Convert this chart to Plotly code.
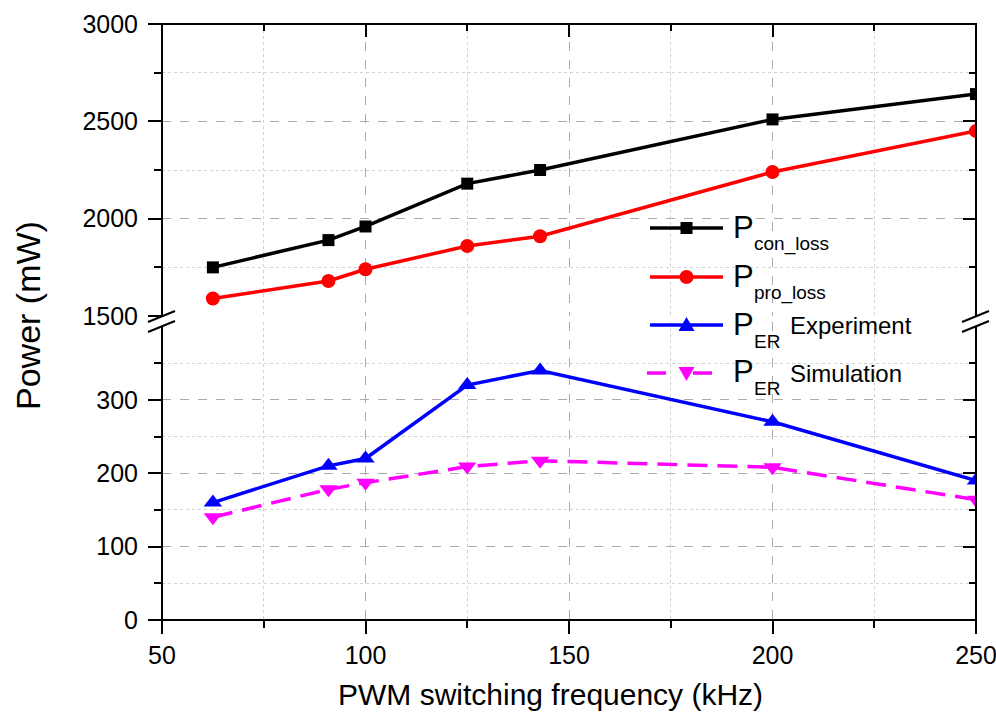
import plotly.graph_objects as go

# PWM switching frequency (kHz)
freq = [62.5, 90.9, 100, 125, 142.9, 200, 250]

# Power losses (mW), upper segment of the broken axis
p_con_loss = [1750, 1890, 1960, 2180, 2250, 2510, 2640]
p_pro_loss = [1590, 1680, 1740, 1860, 1910, 2240, 2450]

# Energy-recovery power (mW), lower segment of the broken axis
p_er_exp = [160, 210, 220, 320, 340, 270, 190]
p_er_sim = [140, 178, 187, 209, 217, 208, 164]

FONT = "Liberation Sans, Arial, sans-serif"
GRID_MAJOR = "#ababab"
GRID_MINOR = "#d2d2d2"
LINE_W = 3.5

# figure geometry in pixels (plot area)
W, H = 996, 722
ML, MR, MT, MB = 162, 20, 24, 102
PW, PH = W - ML - MR, H - MT - MB


def px_x(px):
    return (px - ML) / PW


def px_y(py):
    return (H - MB - py) / PH


series = [
    dict(y=p_con_loss, ax="y2", color="#000000", symbol="square", size=12,
         dash="solid", sub="con_loss", extra=""),
    dict(y=p_pro_loss, ax="y2", color="#ff0000", symbol="circle", size=14,
         dash="solid", sub="pro_loss", extra=""),
    dict(y=p_er_exp, ax="y", color="#0000ff", symbol="triangle-up", size=16,
         dash="solid", sub="ER", extra="Experiment"),
    dict(y=p_er_sim, ax="y", color="#ff00ff", symbol="triangle-down", size=16,
         dash="20px,10px", sub="ER", extra="Simulation"),
]

fig = go.Figure()

for s in series:
    fig.add_trace(go.Scatter(
        x=freq, y=s["y"], xaxis="x", yaxis=s["ax"], mode="lines+markers",
        name="P " + s["sub"] + (" " + s["extra"] if s["extra"] else ""),
        showlegend=False,
        line=dict(color=s["color"], width=LINE_W, dash=s["dash"]),
        marker=dict(symbol=s["symbol"], size=s["size"], color=s["color"])))

# empty traces so the mirrored tick axes (top / right) get drawn
for xa, ya in [("x2", "y2"), ("x", "y3"), ("x", "y4")]:
    fig.add_trace(go.Scatter(x=[], y=[], xaxis=xa, yaxis=ya,
                             showlegend=False, hoverinfo="skip"))

tickfont = dict(family=FONT, size=25, color="#000000")
LOW_DOM = [0, 0.5]
UP_DOM = [0.51, 1]
LOW_RANGE = [0, 406]
UP_RANGE = [1500, 3000]

xcommon = dict(range=[50, 250], dtick=50, tick0=50, tickwidth=2, automargin=False,
               tickcolor="#000", showline=False, zeroline=False)
ycommon = dict(tickwidth=2, tickcolor="#000", showline=False, zeroline=False,
               automargin=False)

fig.update_layout(
    width=W, height=H,
    margin=dict(l=ML, r=MR, t=MT, b=MB, pad=0, autoexpand=False),
    paper_bgcolor="#ffffff", plot_bgcolor="rgba(0,0,0,0)",
    font=dict(family=FONT, color="#000000"),
    showlegend=False,
    xaxis=dict(**xcommon, domain=[0, 1], anchor="y", ticks="outside", ticklen=13,
               tickfont=tickfont, ticklabeloverflow="allow", ticklabelstandoff=0,
               showgrid=True, gridcolor=GRID_MAJOR, griddash="dash", gridwidth=1,
               minor=dict(dtick=25, tick0=50, ticks="outside", ticklen=7, tickwidth=2,
                          tickcolor="#000", showgrid=True, gridcolor=GRID_MINOR,
                          griddash="dot", gridwidth=1)),
    xaxis2=dict(**xcommon, overlaying="x", anchor="y2", side="top", ticks="inside",
                ticklen=13, showticklabels=False, showgrid=False,
                minor=dict(dtick=25, tick0=50, ticks="inside", ticklen=7, tickwidth=2,
                           tickcolor="#000", showgrid=False)),
    yaxis=dict(**ycommon, domain=LOW_DOM, range=LOW_RANGE, anchor="x",
               tickvals=[0, 100, 200, 300], ticks="outside", ticklen=13,
               tickfont=tickfont, ticklabelstandoff=5,
               showgrid=True, gridcolor=GRID_MAJOR, griddash="dash", gridwidth=1,
               minor=dict(tickvals=[50, 150, 250, 350], ticks="outside", ticklen=7,
                          tickwidth=2, tickcolor="#000", showgrid=True,
                          gridcolor=GRID_MINOR, griddash="dot", gridwidth=1)),
    yaxis2=dict(**ycommon, domain=UP_DOM, range=UP_RANGE, anchor="x",
                tickvals=[1500, 2000, 2500, 3000], ticks="outside", ticklen=13,
                tickfont=tickfont, ticklabelstandoff=5,
                showgrid=True, gridcolor=GRID_MAJOR, griddash="dash", gridwidth=1,
                minor=dict(tickvals=[1750, 2250, 2750], ticks="outside", ticklen=7,
                           tickwidth=2, tickcolor="#000", showgrid=True,
                           gridcolor=GRID_MINOR, griddash="dot", gridwidth=1)),
    yaxis3=dict(**ycommon, overlaying="y", side="right", anchor="x", range=LOW_RANGE,
                tickvals=[0, 100, 200, 300], ticks="inside", ticklen=13,
                showticklabels=False, showgrid=False,
                minor=dict(tickvals=[50, 150, 250, 350], ticks="inside", ticklen=7,
                           tickwidth=2, tickcolor="#000", showgrid=False)),
    yaxis4=dict(**ycommon, overlaying="y2", side="right", anchor="x", range=UP_RANGE,
                tickvals=[1500, 2000, 2500, 3000], ticks="inside", ticklen=13,
                showticklabels=False, showgrid=False,
                minor=dict(tickvals=[1750, 2250, 2750], ticks="inside", ticklen=7,
                           tickwidth=2, tickcolor="#000", showgrid=False)),
)

# frame around the plotting area
fig.add_shape(type="rect", xref="paper", yref="paper", x0=0, x1=1, y0=0, y1=1,
              line=dict(color="#000000", width=2), fillcolor="rgba(0,0,0,0)",
              layer="above")

# axis-break marks on both vertical axes
BREAK_Y = 0.5
for xa in (0, 1):
    fig.add_shape(type="path", xref="paper", yref="paper",
                  xsizemode="pixel", ysizemode="pixel", xanchor=xa, yanchor=BREAK_Y,
                  path="M-13,1 L12,11 L12,1 L-13,-9 Z",
                  fillcolor="#ffffff", line=dict(width=0), layer="above")
    for dy in (0, -10):
        fig.add_shape(type="line", xref="paper", yref="paper",
                      xsizemode="pixel", ysizemode="pixel", xanchor=xa, yanchor=BREAK_Y,
                      x0=-14, x1=13, y0=dy, y1=dy + 11,
                      line=dict(color="#000000", width=2), layer="above")

# legend: line sample + marker + "P" with subscript and optional description
LEG_X0, LEG_X1 = 650, 723
LEG_ROWS = [228, 277, 325, 373]
marker_paths = {
    "square": "M-6,-6 L6,-6 L6,6 L-6,6 Z",
    "triangle-up": "M-8,-6 L8,-6 L0,8 Z",
    "triangle-down": "M-8,6 L8,6 L0,-8 Z",
}
for s, row in zip(series, LEG_ROWS):
    ya = px_y(row)
    xc = (LEG_X0 + LEG_X1) / 2
    if s["dash"] == "solid":
        fig.add_shape(type="line", xref="paper", yref="paper",
                      x0=px_x(LEG_X0), x1=px_x(LEG_X1), y0=ya, y1=ya,
                      line=dict(color=s["color"], width=LINE_W))
    else:
        for a, b in [(647, 666), (693, 712)]:
            fig.add_shape(type="line", xref="paper", yref="paper",
                          x0=px_x(a), x1=px_x(b), y0=ya, y1=ya,
                          line=dict(color=s["color"], width=LINE_W))
    if s["symbol"] == "circle":
        fig.add_shape(type="circle", xref="paper", yref="paper",
                      xsizemode="pixel", ysizemode="pixel",
                      xanchor=px_x(xc), yanchor=ya, x0=-7, x1=7, y0=-7, y1=7,
                      fillcolor=s["color"], line=dict(width=0))
    else:
        fig.add_shape(type="path", xref="paper", yref="paper",
                      xsizemode="pixel", ysizemode="pixel",
                      xanchor=px_x(xc), yanchor=ya, path=marker_paths[s["symbol"]],
                      fillcolor=s["color"], line=dict(width=0))
    fig.add_annotation(text="P", xref="paper", yref="paper",
                       x=px_x(731), y=px_y(row - 1), xanchor="left", yanchor="middle",
                       showarrow=False, font=dict(family=FONT, size=31, color="#000"))
    fig.add_annotation(text=s["sub"], xref="paper", yref="paper",
                       x=px_x(752), y=px_y(row + 16), xanchor="left", yanchor="middle",
                       showarrow=False, font=dict(family=FONT, size=19, color="#000"))
    if s["extra"]:
        fig.add_annotation(text=s["extra"], xref="paper", yref="paper",
                           x=px_x(788), y=px_y(row), xanchor="left", yanchor="middle",
                           showarrow=False, font=dict(family=FONT, size=24, color="#000"))

# axis titles
fig.add_annotation(text="Power (mW)", xref="paper", yref="paper",
                   x=px_x(28), y=px_y(316), xanchor="center", yanchor="middle",
                   showarrow=False, textangle=-90,
                   font=dict(family=FONT, size=34, color="#000000"))
fig.add_annotation(text="PWM switching frequency (kHz)", xref="paper", yref="paper",
                   x=px_x(550), y=px_y(695), xanchor="center", yanchor="middle",
                   showarrow=False,
                   font=dict(family=FONT, size=30, color="#000000"))

fig.write_html("out.html")
